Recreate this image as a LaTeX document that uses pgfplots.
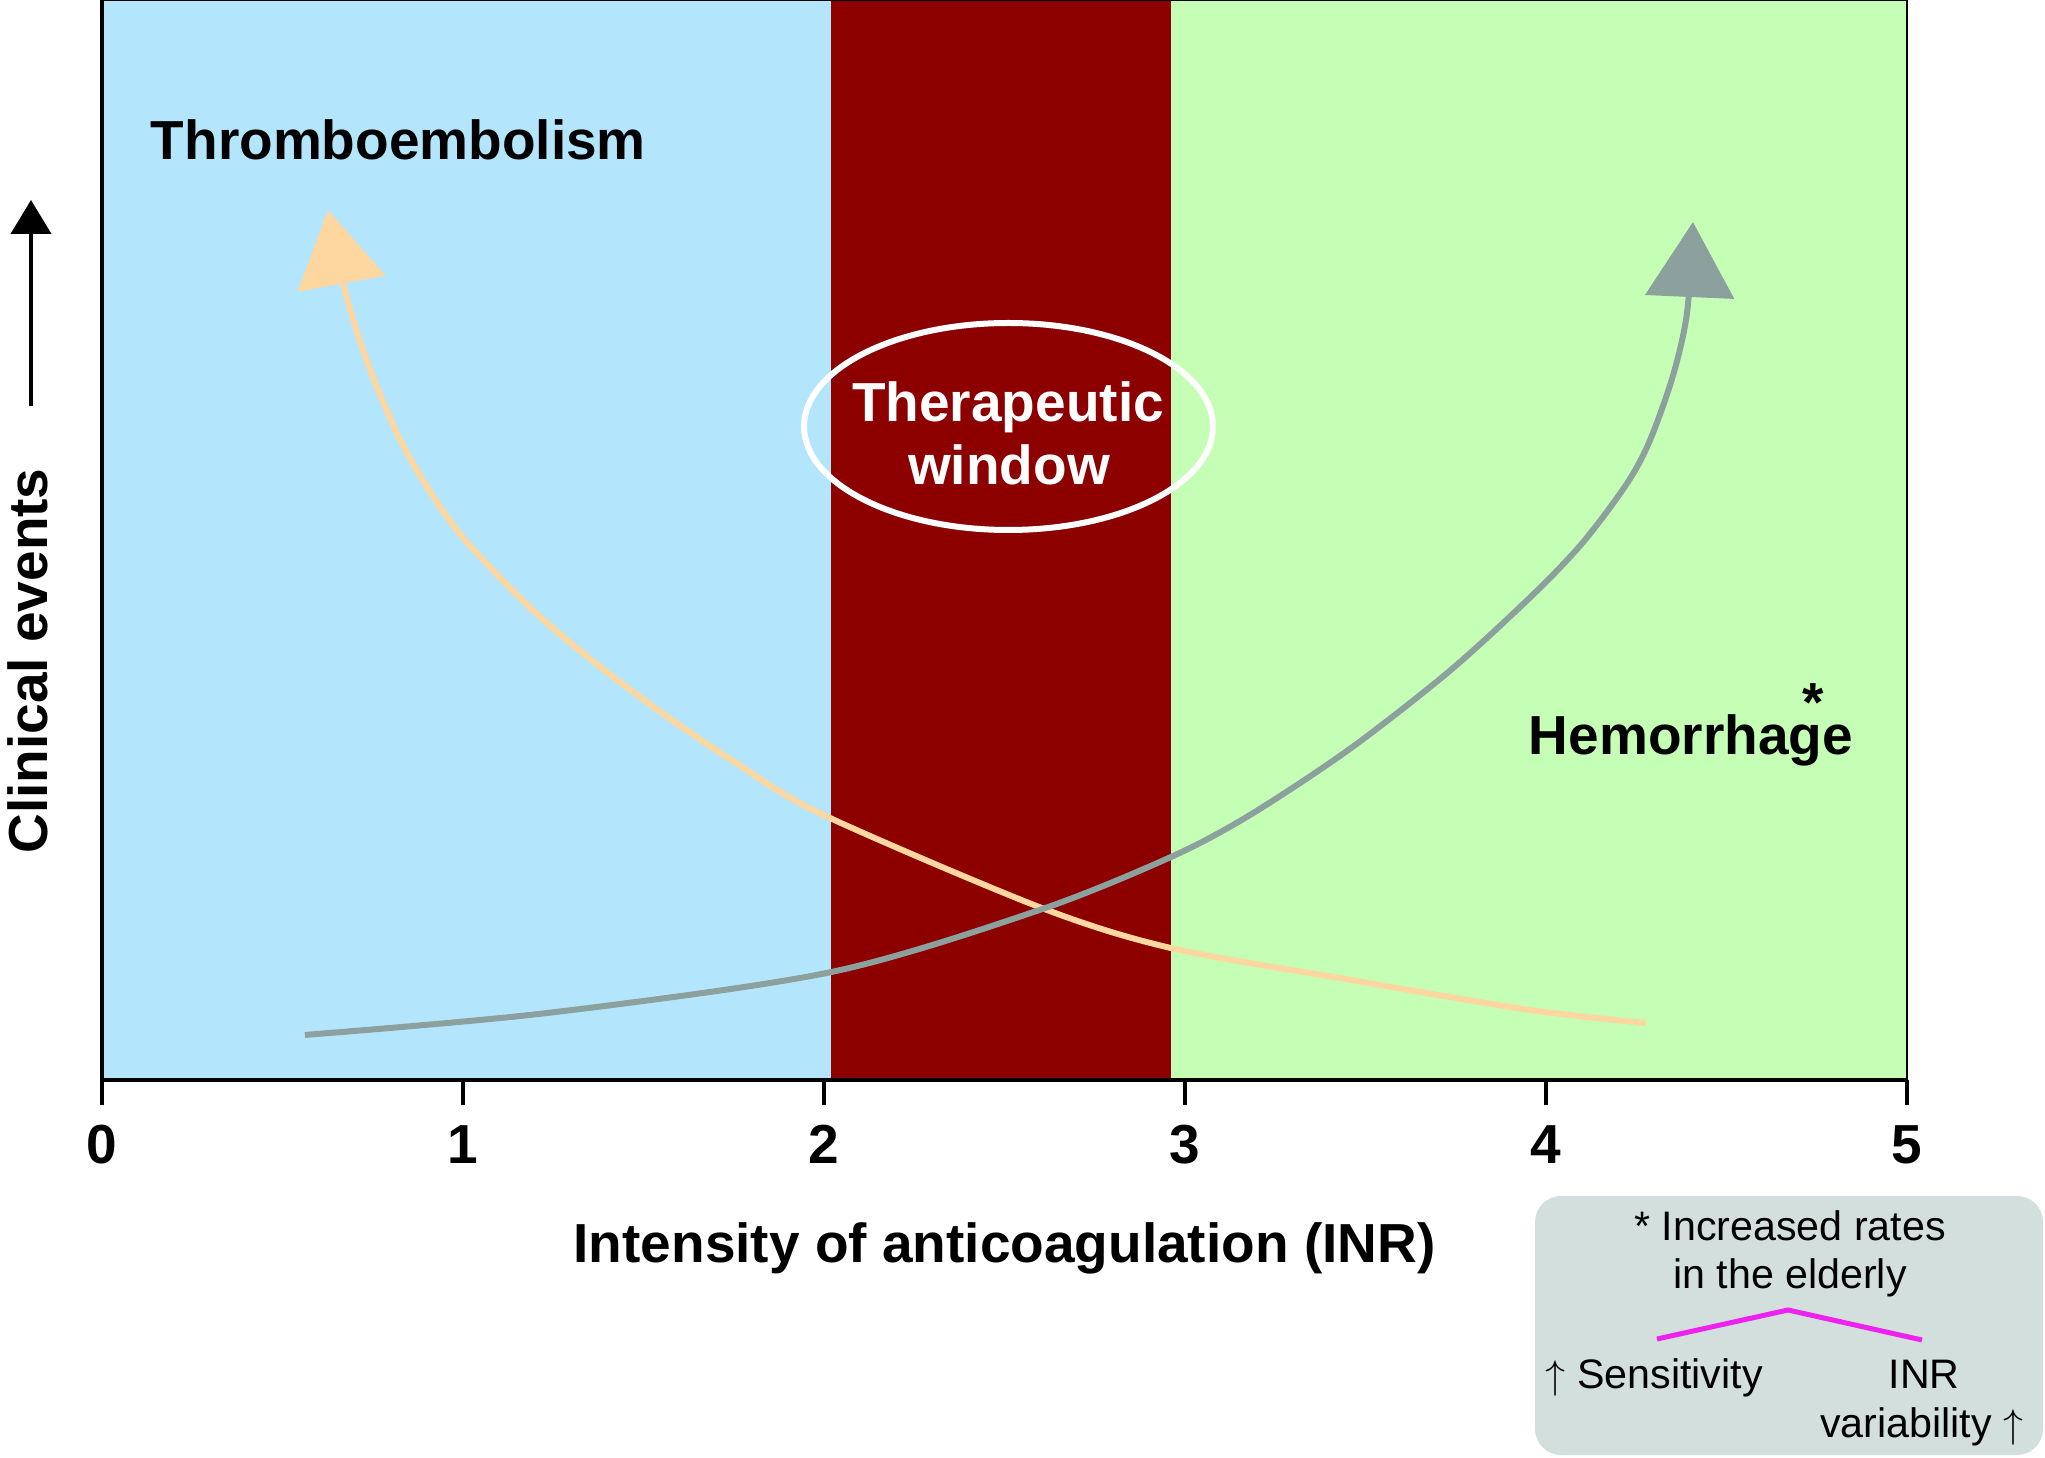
\documentclass[border=0pt]{standalone}
\usepackage{fontspec}
\setmainfont{Liberation Sans}
\usepackage{pgfplots}
\pgfplotsset{compat=1.18}
\usetikzlibrary{arrows.meta}

\definecolor{bgblue}{RGB}{179,230,252}
\definecolor{bgred}{RGB}{140,0,0}
\definecolor{bggreen}{RGB}{196,255,181}
\definecolor{peach}{RGB}{253,214,160}
\definecolor{curvegrey}{RGB}{140,160,158}
\definecolor{boxgrey}{RGB}{210,223,221}
\definecolor{mag}{RGB}{238,34,238}

\newcommand\bigfont{\fontsize{13.75pt}{16pt}\selectfont\bfseries}
\newcommand\smallfont{\fontsize{10.3pt}{12.4pt}\selectfont}

\begin{document}
\begin{tikzpicture}
\useasboundingbox (-25.5pt,-94.25pt) rectangle (485.75pt,270pt);
\begin{axis}[
    at={(0,0)}, anchor=south west,
    scale only axis, width=451.25pt, height=270pt,
    xmin=0, xmax=5, ymin=0, ymax=100,
    xtick={0,1,2,3,4,5}, ytick=\empty,
    xtick pos=bottom,
    tick align=outside,
    major tick length=6.25pt,
    tick style={black, line width=1pt},
    xticklabel style={font=\bigfont, anchor=base, inner sep=0pt, yshift=-14.5pt},
    /pgf/number format/assume math mode=true,
    axis line style={line width=0.6pt},
    axis on top, clip=false,
]
% background bands
\addplot[draw=none, fill=bgblue, forget plot] coordinates {(0,100) (2.02,100)} \closedcycle;
\addplot[draw=none, fill=bgred, forget plot] coordinates {(2.02,100) (2.96,100)} \closedcycle;
\addplot[draw=none, fill=bggreen, forget plot] coordinates {(2.96,100) (5,100)} \closedcycle;

% thromboembolism curve
\addplot[peach, line width=1.5pt, smooth, -{Triangle[length=18.75pt, width=22pt]}] coordinates {
(4.277,5.28) (3.956,6.48) (3.460,9.26) (2.961,12.22) (2.596,16.02) (1.989,24.69)
(1.749,29.51) (1.564,33.68) (1.380,38.25) (1.195,43.44) (1.010,49.82) (0.918,54.00)
(0.825,59.34) (0.733,66.61) (0.668,73.67) (0.626,80.56)
};

% hemorrhage curve
\addplot[curvegrey, line width=1.5pt, smooth, -{Triangle[length=18.75pt, width=22pt]}] coordinates {
(0.562,4.17) (1.235,6.21) (2.019,9.99) (2.596,15.73) (2.961,20.65) (3.180,24.54)
(3.457,30.67) (3.734,37.90) (3.964,44.94) (4.103,49.81) (4.224,55.22) (4.288,59.23)
(4.352,65.25) (4.391,71.11) (4.407,79.44)
};

\draw[line width=1pt] (axis cs:0,100) -- (axis cs:0,0) -- (axis cs:5,0);
\end{axis}

% annotations in image pixel units
\begin{scope}[shift={(-25.5pt,270pt)}, x=0.25pt, y=-0.25pt]
\draw[white, line width=1.5pt] (1008.5,426.5) ellipse [x radius=204.5, y radius=103.5];
\node[anchor=base west, inner sep=0pt, font=\bigfont] at (150,160) {Thromboembolism};
\node[anchor=base, inner sep=0pt, font=\bigfont, white] at (1008,422) {Therapeutic};
\node[anchor=base, inner sep=0pt, font=\bigfont, white] at (1009,485) {window};
\node[anchor=base west, inner sep=0pt, font=\bigfont] at (1528,755)
    {Hemorrhage\llap{\raisebox{8.25pt}{*}\hspace{7.25pt}}};
\node[anchor=base, inner sep=0pt, font=\bigfont] at (1004.5,1262) {Intensity of anticoagulation (INR)};
\node[rotate=90, anchor=base, inner sep=0pt, font=\bigfont] at (48,661) {Clinical events};
\draw[line width=1pt, -{Triangle[length=8.5pt, width=10pt]}] (31,406) -- (31,200);

\fill[boxgrey, rounded corners=6.5pt] (1535,1196) rectangle (2043,1455);
\node[anchor=base, inner sep=0pt, font=\smallfont] at (1790,1240) {* Increased rates};
\node[anchor=base, inner sep=0pt, font=\smallfont] at (1790,1288) {in the elderly};
\draw[mag, line width=1.25pt] (1657,1339) -- (1788,1310) -- (1922,1340);
\node[anchor=base west, inner sep=0pt, font=\smallfont] at (1545,1388) {$\uparrow$ Sensitivity};
\node[anchor=base, inner sep=0pt, font=\smallfont] at (1924,1388) {INR};
\node[anchor=base east, inner sep=0pt, font=\smallfont] at (2024,1437) {variability $\uparrow$};
\end{scope}
\end{tikzpicture}
\end{document}
